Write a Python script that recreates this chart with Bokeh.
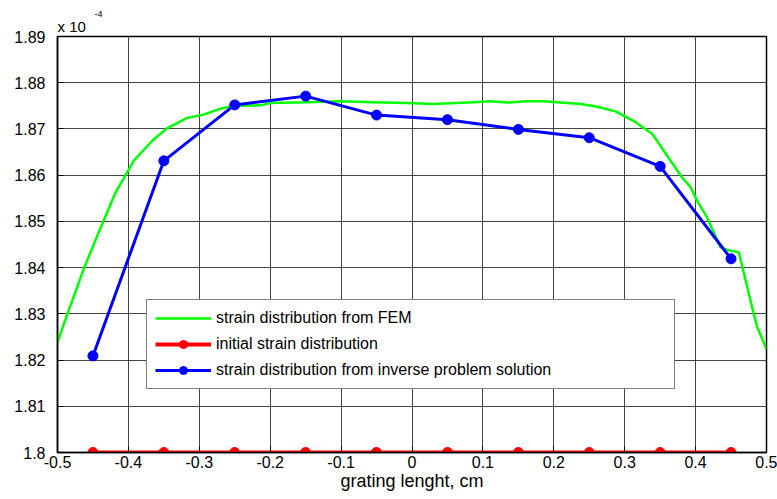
from bokeh.plotting import figure
from bokeh.models import Range1d, FixedTicker, Title
from bokeh.embed import file_html
from bokeh.resources import INLINE

# ---- data (strain in units of 1e-4) ----
fem_x = [-0.5, -0.486, -0.462, -0.439, -0.418, -0.392, -0.366, -0.345, -0.317, -0.294,
         -0.27, -0.25, -0.214, -0.2, -0.148, -0.1, -0.054, -0.007, 0.03, 0.087,
         0.11, 0.134, 0.162, 0.186, 0.238, 0.261, 0.287, 0.313, 0.339, 0.36,
         0.381, 0.393, 0.402, 0.416, 0.435, 0.445, 0.461, 0.473, 0.482, 0.487, 0.5]
fem_y = [1.8238, 1.8300, 1.8401, 1.8487, 1.8563, 1.8632, 1.8675, 1.8702, 1.8724, 1.8731,
         1.8744, 1.8750, 1.8751, 1.8756, 1.8758, 1.8760, 1.8758, 1.8756, 1.8754, 1.8758,
         1.8760, 1.8757, 1.8760, 1.8760, 1.8754, 1.8748, 1.8738, 1.8717, 1.8689, 1.8642,
         1.8595, 1.8574, 1.8545, 1.8509, 1.8444, 1.8438, 1.8433, 1.8357, 1.8300, 1.8271, 1.8224]

pts_x = [-0.45, -0.35, -0.25, -0.15, -0.05, 0.05, 0.15, 0.25, 0.35, 0.45]
initial_y = [1.80, 1.80, 1.80, 1.80, 1.80, 1.80, 1.80, 1.80, 1.80, 1.80]
inverse_y = [1.8209, 1.8631, 1.8752, 1.8771, 1.8730, 1.8720, 1.8699, 1.8681, 1.8619, 1.8419]

x_ticks = [-0.5, -0.4, -0.3, -0.2, -0.1, 0, 0.1, 0.2, 0.3, 0.4, 0.5]
x_labels = ["-0.5", "-0.4", "-0.3", "-0.2", "-0.1", "0", "0.1", "0.2", "0.3", "0.4", "0.5"]
y_ticks = [1.8, 1.81, 1.82, 1.83, 1.84, 1.85, 1.86, 1.87, 1.88, 1.89]
y_labels = ["1.8", "1.81", "1.82", "1.83", "1.84", "1.85", "1.86", "1.87", "1.88", "1.89"]

FONT = "Liberation Sans"

p = figure(width=777, height=499, output_backend="svg", toolbar_location=None,
           x_range=Range1d(-0.5, 0.5), y_range=Range1d(1.8, 1.89),
           min_border_left=57, min_border_right=11, min_border_top=36, min_border_bottom=47)
p.background_fill_color = "white"
p.border_fill_color = "white"
p.outline_line_color = "black"
p.outline_line_width = 1.5

p.xaxis.ticker = FixedTicker(ticks=x_ticks)
p.yaxis.ticker = FixedTicker(ticks=y_ticks)
p.xaxis.major_label_overrides = dict(zip(x_ticks, x_labels))
p.yaxis.major_label_overrides = dict(zip(y_ticks, y_labels))
p.xaxis.axis_label = "grating lenght, cm"
p.xaxis.axis_label_text_font = FONT
p.xaxis.axis_label_text_font_size = "18px"
p.xaxis.axis_label_text_font_style = "normal"
p.xaxis.axis_label_text_color = "black"
p.xaxis.axis_label_standoff = 0
p.xaxis.major_label_standoff = 3
p.yaxis.major_label_standoff = 12

for ax in (p.xaxis, p.yaxis):
    ax.major_label_text_font = FONT
    ax.major_label_text_font_size = "16px"
    ax.major_label_text_color = "black"
    ax.major_tick_in = 6
    ax.major_tick_out = 0
    ax.minor_tick_in = 0
    ax.minor_tick_out = 0
    ax.axis_line_width = 1.5
    ax.axis_line_color = "black"
    ax.major_tick_line_color = "black"

p.grid.grid_line_color = "#222222"
p.grid.grid_line_alpha = 0.85
p.grid.grid_line_width = 1
p.xgrid.ticker = FixedTicker(ticks=x_ticks)
p.ygrid.ticker = FixedTicker(ticks=y_ticks)

p.line(fem_x, fem_y, line_color="#00ff00", line_width=2.5,
       legend_label="strain distribution from FEM")
p.line(pts_x, initial_y, line_color="#ff0000", line_width=4,
       legend_label="initial strain distribution")
p.scatter(pts_x, initial_y, size=10, fill_color="#ff0000", line_color="#ff0000",
          legend_label="initial strain distribution")
p.line(pts_x, inverse_y, line_color="#0000ff", line_width=3,
       legend_label="strain distribution from inverse problem solution")
p.scatter(pts_x, inverse_y, size=10, fill_color="#0000ff", line_color="#0000ff",
          legend_label="strain distribution from inverse problem solution")

lg = p.legend[0]
lg.location = (89, 63)
lg.margin = 0
lg.padding = 8
lg.spacing = 6
lg.glyph_width = 56
lg.glyph_height = 20
lg.label_height = 20
lg.label_width = 450
lg.label_standoff = 5
lg.label_text_font = FONT
lg.label_text_font_size = "16px"
lg.label_text_color = "black"
lg.border_line_color = "black"
lg.border_line_width = 1.5
lg.background_fill_color = "white"
lg.background_fill_alpha = 1.0

# scale factor note "x 10^-4" above the top-left corner
p.add_layout(Title(text="x 10", align="left", offset=0, standoff=3,
                   text_font=FONT, text_font_size="15px", text_font_style="normal",
                   text_color="black"), "above")
p.add_layout(Title(text="-4", align="left", offset=37, standoff=-5,
                   text_font=FONT, text_font_size="9px", text_font_style="normal",
                   text_color="black"), "above")

open("out.html", "w").write(file_html(p, INLINE))
